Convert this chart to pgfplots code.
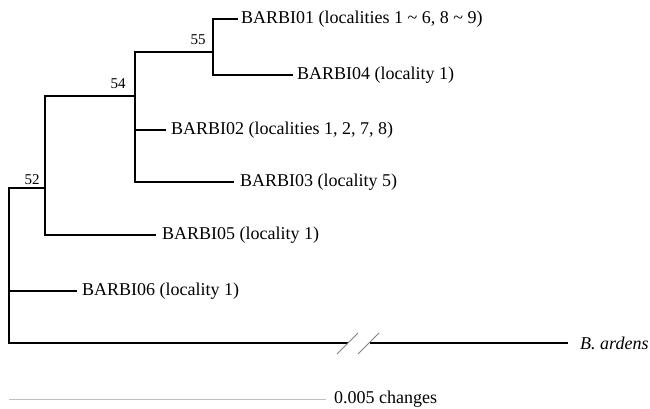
\documentclass[border=0pt]{standalone}
\usepackage{pgfplots}
\pgfplotsset{compat=1.18}
\usepackage{fontspec}
\setmainfont{Liberation Serif}
\begin{document}
\begin{tikzpicture}
\begin{axis}[
  width=650pt, height=409pt, scale only axis,
  xmin=0, xmax=650, ymin=0, ymax=409, y dir=reverse,
  hide axis, clip=false,
  br/.style={black, no markers, line width=2.4pt, line cap=rect, line join=miter},
  thin/.style={no markers, line cap=butt},
]
% root
\addplot[br] coordinates {(9,188) (9,343)};
\addplot[br] coordinates {(9,188) (45,188)};
% node A
\addplot[br] coordinates {(45,96) (45,235)};
\addplot[br] coordinates {(45,96) (135,96)};
\addplot[br] coordinates {(45,235) (155,235)};
% node B
\addplot[br] coordinates {(135,52) (135,182)};
\addplot[br] coordinates {(135,52) (213,52)};
\addplot[br] coordinates {(135,130) (165,130)};
\addplot[br] coordinates {(135,182) (233,182)};
% node C
\addplot[br] coordinates {(213,19) (213,75)};
\addplot[br] coordinates {(213,19) (237,19)};
\addplot[br] coordinates {(213,75) (292,75)};
% BARBI06
\addplot[br] coordinates {(9,291) (76,291)};
% B. ardens
\addplot[br] coordinates {(9,343) (347,343)};
\addplot[br] coordinates {(371,343) (567,343)};
% break marks
\addplot[thin, gray, line width=0.8pt] coordinates {(337,354) (358,333)};
\addplot[thin, gray, line width=0.8pt] coordinates {(358,354) (379,333)};
% scale bar
\addplot[thin, black!25, line width=1pt] coordinates {(9,399) (326,399)};
% invisible frame
\addplot[draw=none, no markers] coordinates {(0,0) (650,409)};

\begin{scope}[every node/.style={anchor=west, inner sep=0pt, font=\fontsize{18}{20}\selectfont}]
\node at (axis cs:241,19) {BARBI01 (localities 1 \char`\~{} 6, 8 \char`\~{} 9)};
\node at (axis cs:297,75) {BARBI04 (locality 1)};
\node at (axis cs:171,130) {BARBI02 (localities 1, 2, 7, 8)};
\node at (axis cs:240,182) {BARBI03 (locality 5)};
\node at (axis cs:162,235) {BARBI05 (locality 1)};
\node at (axis cs:82,291) {BARBI06 (locality 1)};
\node at (axis cs:580,343) {\itshape B. ardens};
\node at (axis cs:334,399) {0.005 changes};
\end{scope}
\begin{scope}[every node/.style={anchor=center, inner sep=0pt, font=\fontsize{15}{17}\selectfont}]
\node at (axis cs:198,40) {55};
\node at (axis cs:118,84) {54};
\node at (axis cs:32,180) {52};
\end{scope}
\end{axis}
\end{tikzpicture}
\end{document}
